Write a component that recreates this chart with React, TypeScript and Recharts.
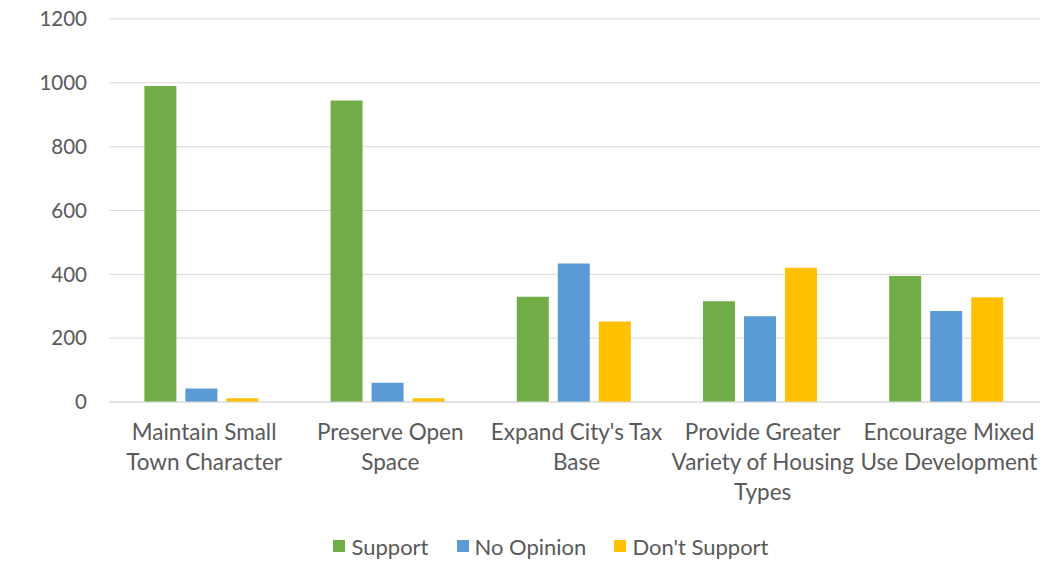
import React from 'react';
import { BarChart, Bar, XAxis, YAxis, CartesianGrid, Legend } from 'recharts';

const categories = [
  'Maintain Small\nTown Character',
  'Preserve Open\nSpace',
  "Expand City's Tax\nBase",
  'Provide Greater\nVariety of Housing\nTypes',
  'Encourage Mixed\nUse Development',
];
const support = [990, 945, 330, 316, 395];
const noOpinion = [42, 60, 434, 269, 285];
const dontSupport = [12, 12, 252, 421, 328];
const yTicks = [0, 200, 400, 600, 800, 1000, 1200];
const seriesNames = ['Support', 'No Opinion', "Don't Support"];

const data = categories.map((name, i) => ({
  name,
  support: support[i],
  noOpinion: noOpinion[i],
  dontSupport: dontSupport[i],
}));

const FONT = 'Lato, "Open Sans", sans-serif';
const TEXT = '#595959';

const CategoryTick = (props: any) => {
  const { x, y, payload } = props;
  const lines = String(payload.value).split('\n');
  return (
    <text x={x + 2} y={y} textAnchor="middle" fill={TEXT} fontSize={22.5} fontFamily={FONT}>
      {lines.map((l, i) => (
        <tspan key={i} x={x + 2} dy={i === 0 ? 30 : 30}>
          {l}
        </tspan>
      ))}
    </text>
  );
};

const LegendContent = (props: any) => {
  const items = [...(props.payload || [])].sort(
    (a: any, b: any) => seriesNames.indexOf(a.value) - seriesNames.indexOf(b.value)
  );
  return (
    <div
      style={{
        height: 30,
        display: 'flex',
        justifyContent: 'center',
        alignItems: 'center',
        paddingLeft: 23,
        fontFamily: FONT,
        fontSize: 22,
        color: TEXT,
      }}
    >
      {items.map((p: any) => (
        <span key={p.value} style={{ display: 'flex', alignItems: 'center', margin: '0 14px' }}>
          <span style={{ width: 12, height: 12, background: p.color, display: 'inline-block', marginRight: 6 }} />
          {p.value}
        </span>
      ))}
    </div>
  );
};

export default function App() {
  return (
    <div style={{ position: 'absolute', left: 0, top: 0, background: '#fff' }}>
      <BarChart
        width={1059}
        height={563}
        data={data}
        margin={{ top: 19, right: 19, left: 39, bottom: 2 }}
        barCategoryGap="19%"
        barGap={9}
      >
        <CartesianGrid vertical={false} stroke="#d9d9d9" />
        <XAxis
          dataKey="name"
          interval={0}
          height={129}
          tickLine={false}
          axisLine={{ stroke: '#d9d9d9' }}
          tick={<CategoryTick />}
        />
        <YAxis
          domain={[0, 1200]}
          ticks={yTicks}
          width={70}
          axisLine={false}
          tickLine={false}
          tickMargin={16}
          tick={{ fill: TEXT, fontSize: 20.5, fontFamily: FONT }}
        />
        <Legend verticalAlign="bottom" content={<LegendContent />} />
        <Bar dataKey="support" name="Support" fill="#70AD47" isAnimationActive={false} />
        <Bar dataKey="noOpinion" name="No Opinion" fill="#5B9BD5" isAnimationActive={false} />
        <Bar dataKey="dontSupport" name="Don't Support" fill="#FFC000" isAnimationActive={false} />
      </BarChart>
    </div>
  );
}
